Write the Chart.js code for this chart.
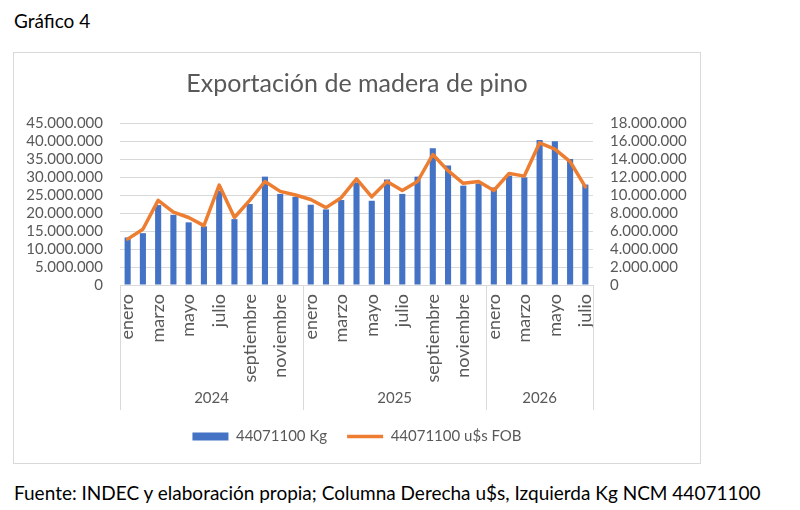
<!DOCTYPE html>
<html>
<head>
<meta charset="utf-8">
<script src="https://cdn.jsdelivr.net/npm/chart.js@4.4.1/dist/chart.umd.min.js"></script>
<style>
  body { margin: 0; background: #fff; font-family: Lato, "Open Sans", sans-serif; }
  #caption { position: absolute; left: 14px; top: 9px; font-size: 19px; color: #000; }
  #frame { position: absolute; left: 13px; top: 52px; width: 688px; height: 412px;
           border: 1px solid #d9d9d9; box-sizing: border-box; }
  #footer { position: absolute; left: 14px; top: 481px; font-size: 19px; color: #000; white-space: nowrap; }
</style>
</head>
<body>
<div id="caption">Gráfico 4</div>
<div id="frame"><canvas id="chart" width="686" height="410"></canvas></div>
<div id="footer">Fuente: INDEC y elaboración propia; Columna Derecha u$s, Izquierda Kg NCM 44071100</div>
<script>
// --- data ---
const years = ['2024', '2025', '2026'];
const monthsPerYear = [12, 12, 7];
const monthNames = ['enero', 'febrero', 'marzo', 'abril', 'mayo', 'junio', 'julio',
  'agosto', 'septiembre', 'octubre', 'noviembre', 'diciembre'];

const kgValues = [
  13200000, 14400000, 22200000, 19500000, 17400000, 16300000, 26200000, 18300000, 22500000, 30100000, 25300000, 24500000,
  22300000, 21000000, 23600000, 28500000, 23400000, 29300000, 25300000, 30100000, 38000000, 33200000, 27600000, 28200000,
  27100000, 30400000, 29900000, 40300000, 39900000, 35000000, 27900000
];
const usdValues = [
  5100000, 6200000, 9400000, 8100000, 7500000, 6600000, 11100000, 7500000, 9400000, 11500000, 10400000, 10000000,
  9500000, 8600000, 9700000, 11800000, 9800000, 11500000, 10500000, 11500000, 14500000, 12700000, 11300000, 11500000,
  10500000, 12400000, 12100000, 15800000, 15100000, 13700000, 10900000
];

const labels = [];
monthsPerYear.forEach(n => { for (let i = 0; i < n; i++) labels.push(monthNames[i]); });

const fmt = v => String(v).replace(/\B(?=(\d{3})+(?!\d))/g, '.');
const gray = '#595959';
const gridColor = '#d9d9d9';
const tickFont = { family: 'Lato', size: 15 };

// year row and group separators under the month labels
const yearGroups = {
  id: 'yearGroups',
  afterDraw(chart) {
    const x = chart.scales.x;
    const ctx = chart.ctx;
    const top = chart.chartArea.bottom;
    const bottom = top + 125;
    const edge = i => i === 0 ? x.left : (i >= labels.length ? x.right :
      (x.getPixelForValue(i - 1) + x.getPixelForValue(i)) / 2);
    ctx.save();
    ctx.strokeStyle = gridColor;
    ctx.lineWidth = 1;
    ctx.fillStyle = gray;
    ctx.font = '15px Lato';
    ctx.textAlign = 'center';
    ctx.textBaseline = 'middle';
    let start = 0;
    years.forEach((yr, k) => {
      const end = start + monthsPerYear[k];
      const x0 = edge(start), x1 = edge(end);
      ctx.beginPath();
      ctx.moveTo(Math.round(x0) + 0.5, top);
      ctx.lineTo(Math.round(x0) + 0.5, bottom);
      ctx.stroke();
      if (k === years.length - 1) {
        ctx.beginPath();
        ctx.moveTo(Math.round(x1) + 0.5, top);
        ctx.lineTo(Math.round(x1) + 0.5, bottom);
        ctx.stroke();
      }
      ctx.fillText(yr, (x0 + x1) / 2, top + 113);
      start = end;
    });
    ctx.restore();
  }
};

new Chart(document.getElementById('chart').getContext('2d'), {
  type: 'bar',
  data: {
    labels: labels,
    datasets: [
      {
        label: '44071100 Kg', data: kgValues, yAxisID: 'y', order: 1,
        backgroundColor: '#4472C4', borderWidth: 0, pointStyle: 'rect',
        barPercentage: 0.4, categoryPercentage: 1
      },
      {
        type: 'line', label: '44071100 u$s FOB', data: usdValues, yAxisID: 'y1', order: 0,
        borderColor: '#ED7D31', backgroundColor: '#ED7D31', borderWidth: 3.5,
        pointRadius: 0, tension: 0, pointStyle: 'line',
        borderJoinStyle: 'round', borderCapStyle: 'round'
      }
    ]
  },
  options: {
    responsive: false,
    animation: false,
    layout: { padding: { left: 0, right: 0, top: 0, bottom: 9 } },
    plugins: {
      title: {
        display: true, text: 'Exportación de madera de pino', color: gray,
        font: { family: 'Lato', size: 25, weight: 'normal' },
        padding: { top: 16, bottom: 24 }
      },
      legend: {
        position: 'bottom',
        labels: {
          color: gray, font: tickFont, usePointStyle: true,
          pointStyleWidth: 36, boxHeight: 8, padding: 20,
          sort: (a, b) => a.datasetIndex - b.datasetIndex
        }
      },
      tooltip: { enabled: false }
    },
    scales: {
      x: {
        grid: { display: false, drawTicks: false },
        border: { display: false },
        ticks: {
          color: gray, font: { family: 'Lato', size: 18 }, autoSkip: false,
          minRotation: 90, maxRotation: 90, padding: 9,
          callback: function (value, index) { return index % 2 === 0 ? this.getLabelForValue(value) : ''; }
        },
        afterFit: s => { s.height = 124; }
      },
      y: {
        position: 'left', min: 0, max: 45000000,
        grid: { color: gridColor, drawTicks: false },
        border: { display: false },
        ticks: { stepSize: 5000000, autoSkip: false, color: gray, font: tickFont, padding: 17, callback: v => fmt(v) },
        afterFit: s => { s.width = 106; }
      },
      y1: {
        position: 'right', min: 0, max: 18000000,
        grid: { display: false, drawTicks: false },
        border: { display: false },
        ticks: { stepSize: 2000000, autoSkip: false, color: gray, font: tickFont, padding: 17, callback: v => fmt(v) },
        afterFit: s => { s.width = 107; }
      }
    }
  },
  plugins: [yearGroups]
});
</script>
</body>
</html>
